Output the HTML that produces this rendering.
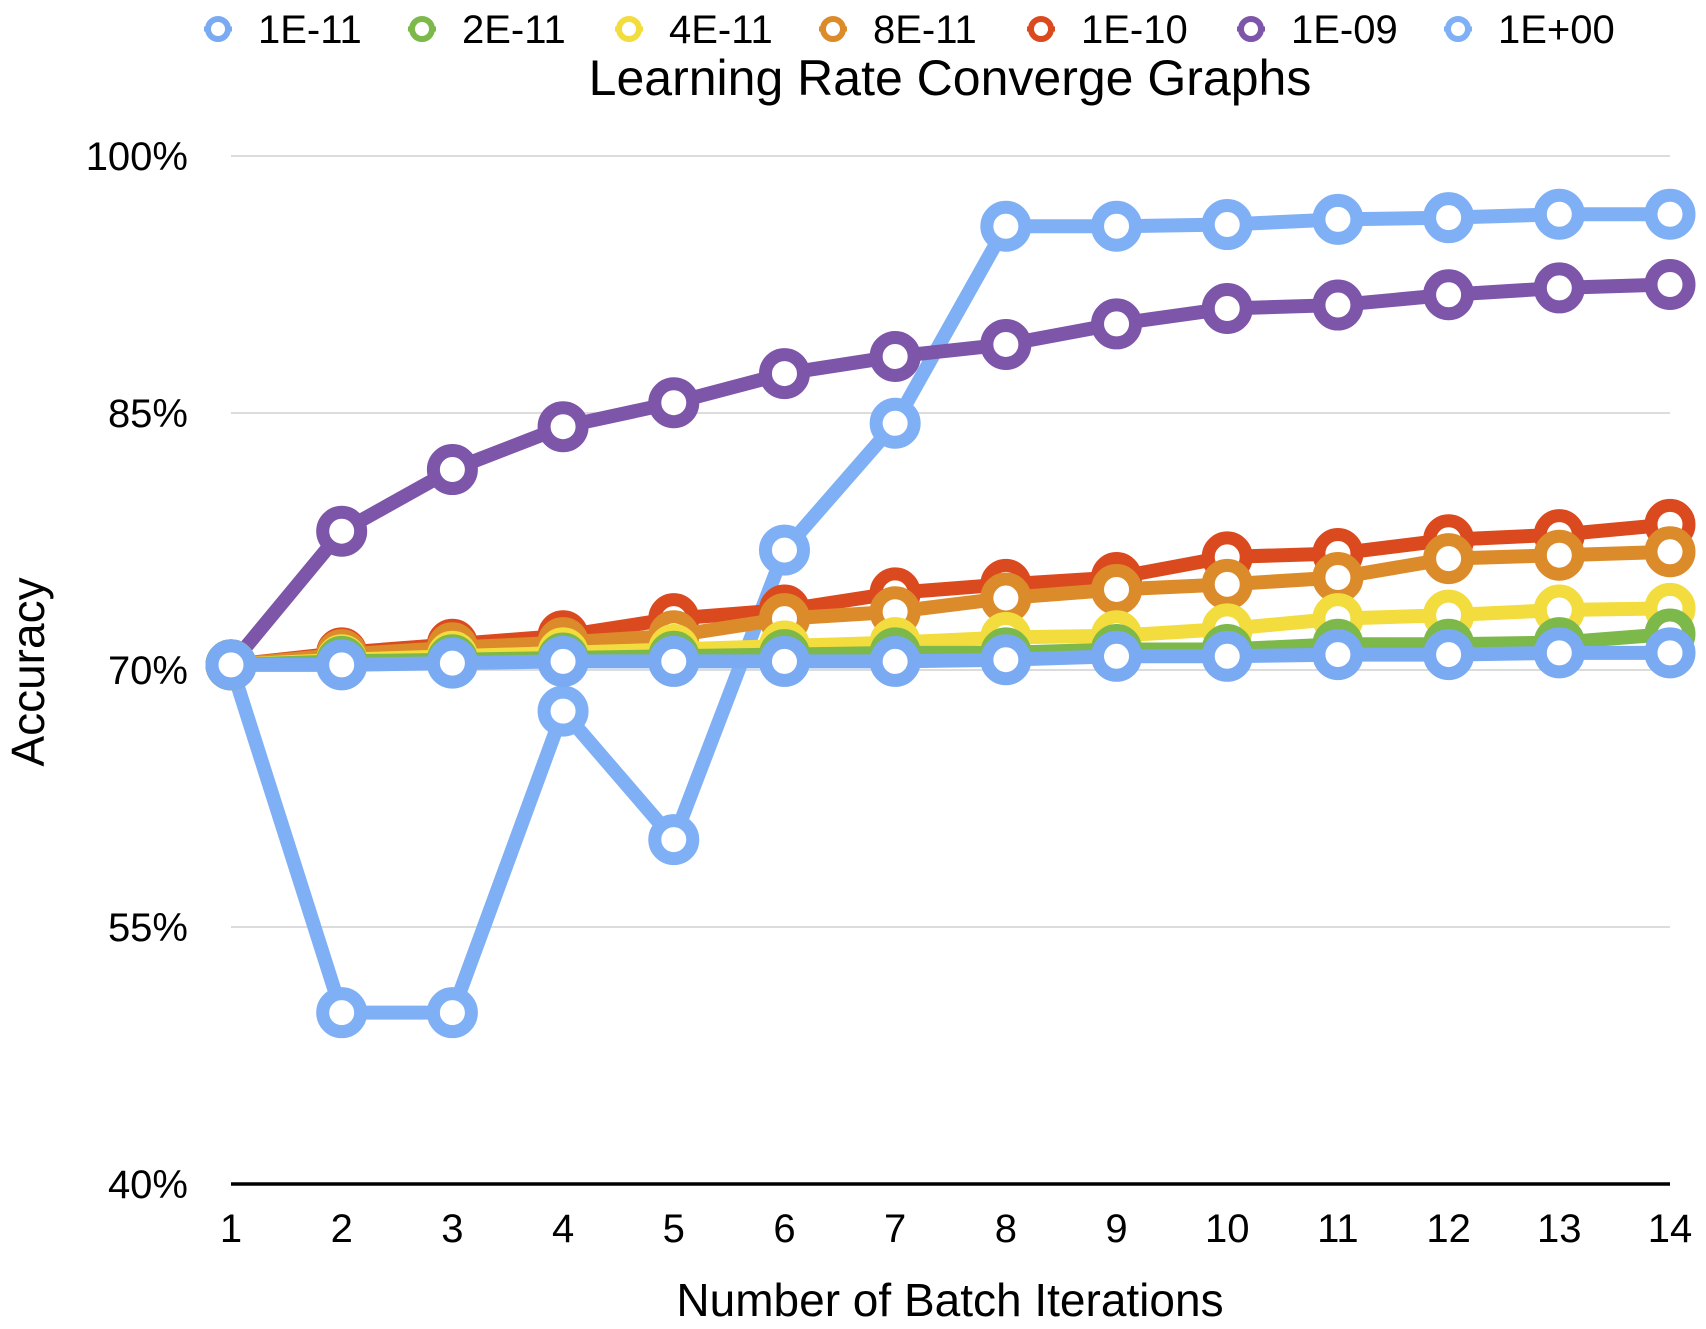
<!DOCTYPE html>
<html><head><meta charset="utf-8"><style>
html,body{margin:0;padding:0;background:#fff;}
svg{display:block;font-family:"Liberation Sans",Arial,sans-serif;}
</style></head><body>
<svg id="chart" width="1706" height="1329" viewBox="0 0 1706 1329">
<g id="grid"></g>
<g id="series"></g>
<g id="axes"></g>
<g id="legend"></g>
<text x="950" y="95" font-size="50" text-anchor="middle">Learning Rate Converge Graphs</text>
<text x="950" y="1316" font-size="46" text-anchor="middle">Number of Batch Iterations</text>
<text transform="translate(44,672) rotate(-90)" font-size="46" text-anchor="middle">Accuracy</text>
</svg>
<script>
const categories=[1,2,3,4,5,6,7,8,9,10,11,12,13,14];
const yTicks=[40,55,70,85,100];
const seriesNames=["1E-11","2E-11","4E-11","8E-11","1E-10","1E-09","1E+00"];
const seriesColors=["#7aaaf2","#7cb84a","#f2dc3e","#dc8b2b","#db4a1f","#7d55a9","#7fb0f5"];
const s1E11=[70.3,70.3,70.4,70.5,70.5,70.5,70.5,70.6,70.8,70.8,70.9,70.9,71.0,71.0];
const s2E11=[70.3,70.5,70.6,70.7,70.8,70.9,71.0,71.0,71.2,71.2,71.5,71.5,71.6,72.1];
const s4E11=[70.3,70.6,70.8,71.0,71.2,71.4,71.6,71.9,72.0,72.4,73.0,73.2,73.5,73.6];
const s8E11=[70.3,70.9,71.3,71.6,72.0,73.0,73.4,74.2,74.7,75.0,75.4,76.5,76.7,76.9];
const s1E10=[70.3,71.0,71.5,72.0,73.0,73.5,74.5,75.0,75.4,76.6,76.8,77.6,77.9,78.5];
const s1E09=[70.3,78.1,81.7,84.2,85.6,87.3,88.3,89.0,90.2,91.1,91.3,91.9,92.3,92.5];
const s1E00=[70.3,50.0,50.0,67.6,60.1,77.0,84.4,95.9,95.9,96.0,96.3,96.4,96.6,96.6];
const allSeries=[s1E11,s2E11,s4E11,s8E11,s1E10,s1E09,s1E00];
const NS="http://www.w3.org/2000/svg";
const X0=231,X1=1670,Y40=1184,Y100=156;
const xs=i=>X0+(X1-X0)*i/(categories.length-1);
const ys=v=>Y40-(v-40)/60*(Y40-Y100);
function mk(t,a,p){const e=document.createElementNS(NS,t);for(const k in a)e.setAttribute(k,a[k]);p.appendChild(e);return e;}
const grid=document.getElementById('grid'),axes=document.getElementById('axes');
yTicks.forEach(v=>{
 if(v>40){const l=mk('line',{x1:X0,x2:X1,y1:ys(v),y2:ys(v),stroke:'#d0d0d0','stroke-width':1.5},grid);
 
 }
 const t=mk('text',{x:188,y:ys(v)+14,'font-size':40,'text-anchor':'end'},axes);t.textContent=v+'%';
 
 
});
const ax=mk('line',{x1:X0,x2:X1,y1:Y40,y2:Y40,stroke:'#000','stroke-width':3.5},axes);


categories.forEach((c,i)=>{const t=mk('text',{x:xs(i),y:1242,'font-size':40,'text-anchor':'middle'},axes);t.textContent=c;
 
 });
const sg=document.getElementById('series');
for(let k=allSeries.length-1;k>=0;k--){
 const d=allSeries[k],col=seriesColors[k];
 const g=mk('g',{},sg);
 
 
 const pl=mk('polyline',{points:d.map((v,i)=>xs(i)+','+ys(v)).join(' '),fill:'none',stroke:col,'stroke-width':14,'stroke-linejoin':'round'},g);
 
 
 d.forEach((v,i)=>{const c=mk('circle',{cx:xs(i),cy:ys(v),r:19,fill:'#fff',stroke:col,'stroke-width':13},g);
  
  });
}
const lg=document.getElementById('legend');
const lx=[218,422,629,833,1041,1251,1458];
seriesNames.forEach((n,k)=>{
 const g=mk('g',{},lg);
 
 
 mk('line',{x1:lx[k]-14,x2:lx[k]+14,y1:29,y2:29,stroke:seriesColors[k],'stroke-width':5},g);
 mk('circle',{cx:lx[k],cy:29,r:10,fill:'#fff',stroke:seriesColors[k],'stroke-width':6},g);
 const t=mk('text',{x:lx[k]+40,y:43,'font-size':40},g);t.textContent=n;
});
</script>
</body></html>
